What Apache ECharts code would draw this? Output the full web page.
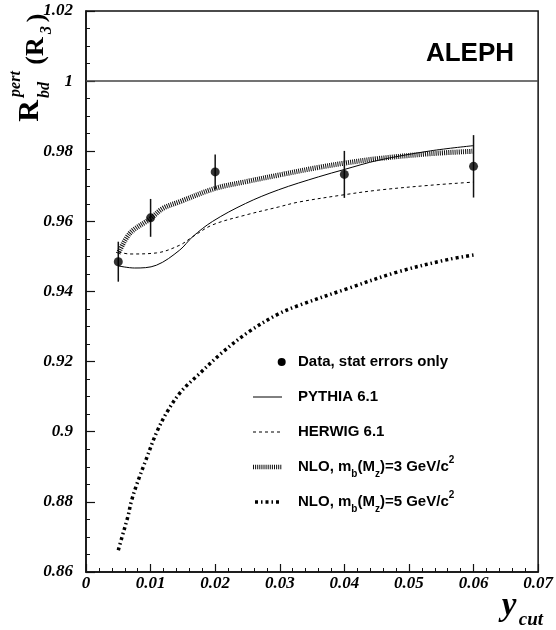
<!DOCTYPE html>
<html><head><meta charset="utf-8">
<script src="https://cdn.jsdelivr.net/npm/echarts@6/dist/echarts.min.js"></script>
<style>html,body{margin:0;padding:0;background:#fff}#c{width:556px;height:630px}</style>
</head><body><div id="c"></div>
<script>
// ---- data ----
const dataX   = [0.005, 0.01, 0.02, 0.04, 0.06];
const dataY   = [0.9485, 0.9610, 0.9741, 0.9734, 0.9757];
const dataErr = [0.0057, 0.0054, 0.0050, 0.0067, 0.0089];

const pythiaX = [0.005, 0.0075, 0.0109, 0.0145, 0.0165, 0.0196, 0.0247, 0.0298, 0.036, 0.040, 0.0452, 0.0533, 0.060];
const pythiaY = [0.9473, 0.9467, 0.9475, 0.9518, 0.9556, 0.9600, 0.9651, 0.9690, 0.9727, 0.9748, 0.9774, 0.9801, 0.9816];

const herwigX = [0.005, 0.0068, 0.0109, 0.0145, 0.0165, 0.0196, 0.0247, 0.0298, 0.0329, 0.040, 0.0452, 0.0533, 0.060];
const herwigY = [0.9513, 0.9507, 0.9510, 0.9532, 0.9556, 0.9590, 0.9618, 0.9641, 0.9655, 0.9676, 0.9689, 0.9703, 0.9712];

const nlo3X = [0.005, 0.0068, 0.010, 0.0119, 0.0145, 0.020, 0.0247, 0.0298, 0.036, 0.040, 0.0452, 0.0533, 0.060];
const nlo3Y = [0.9508, 0.9566, 0.9608, 0.9637, 0.9656, 0.9694, 0.9713, 0.9732, 0.9754, 0.9766, 0.9779, 0.9793, 0.9800];

const nlo5X = [0.005, 0.0055, 0.0065, 0.0070, 0.0079, 0.0091, 0.0110, 0.0127, 0.0147, 0.0173, 0.0211, 0.0252, 0.0297, 0.0329, 0.0406, 0.0483, 0.056, 0.060];
const nlo5Y = [0.8662, 0.8695, 0.8759, 0.8800, 0.8852, 0.8911, 0.9001, 0.9061, 0.9114, 0.9161, 0.9226, 0.9285, 0.9335, 0.9360, 0.9409, 0.9456, 0.9491, 0.9504];

const xMin = 0, xMax = 0.07, xStep = 0.01;
const yMin = 0.86, yMax = 1.02, yStep = 0.02;
const refLineY = 1;

const legendLabels = ['Data, stat errors only', 'PYTHIA 6.1', 'HERWIG 6.1',
  '{t|NLO, m}{s|b}{t|(M}{s|z}{t|)=3 GeV/c}{p|2}',
  '{t|NLO, m}{s|b}{t|(M}{s|z}{t|)=5 GeV/c}{p|2}'];
const expLabel = 'ALEPH';

// ---- chart ----
const zip = (xs, ys) => xs.map((x, i) => [x, ys[i]]);
const fmt = v => String(+(+v).toFixed(3));
const serif = '"Liberation Serif", "DejaVu Serif", serif';
const sans = '"Liberation Sans", Arial, sans-serif';
const tickFont = {fontFamily: serif, fontStyle: 'italic', fontWeight: 'bold', fontSize: 17, color: '#000'};
const AX = '#111';
const chart = echarts.init(document.getElementById('c'), null, {renderer: 'canvas'});

function rtext(x, y, text, font) {
  return {type: 'text', x: x, y: y, rotation: Math.PI / 2, silent: true,
    style: {x: 0, y: 0, text: text, font: font, fill: '#000',
      textAlign: 'center', textVerticalAlign: 'middle', align: 'center', verticalAlign: 'middle'}};
}
function ttext(x, y, text, font, align) {
  return {type: 'text', x: x, y: y, silent: true,
    style: {x: 0, y: 0, text: text, font: font, fill: '#000',
      textAlign: align || 'left', textVerticalAlign: 'middle', align: align || 'left', verticalAlign: 'middle'}};
}
const legRich = {
  t: {fontFamily: sans, fontWeight: 'bold', fontSize: 15, lineHeight: 24, verticalAlign: 'middle', color: '#000'},
  s: {fontFamily: sans, fontWeight: 'bold', fontSize: 10, lineHeight: 10, verticalAlign: 'bottom', color: '#000'},
  p: {fontFamily: sans, fontWeight: 'bold', fontSize: 10, lineHeight: 10, verticalAlign: 'top', color: '#000'}
};
const legY = [362, 397, 432, 467, 502];
const legX0 = 253, legX1 = 282, legTx = 298;
const hatch = {color: '#111', width: 5, dash: [1, 1.1]};
const dashDot = {color: '#000', width: 3.5, dash: [3, 3, 1.5, 3]};
const graphics = [
  // y axis title (rotated)
  rtext(30, 111, 'R', 'bold 30px ' + serif),
  rtext(16, 84, 'pert', 'italic bold 16px ' + serif),
  rtext(45, 90, 'bd', 'italic bold 16px ' + serif),
  rtext(36, 51, '(R', 'bold 26px ' + serif),
  rtext(47, 30, '3', 'italic bold 16px ' + serif),
  rtext(37, 18, ')', 'bold 26px ' + serif),
  // x axis title
  ttext(509, 606, 'y', 'italic bold 33px ' + serif, 'center'),
  ttext(531, 620, 'cut', 'italic bold 19px ' + serif, 'center'),
  // experiment label
  ttext(470, 54, expLabel, 'bold 26px ' + sans, 'center'),
  // legend
  {type: 'circle', shape: {cx: 281.7, cy: legY[0], r: 4}, style: {fill: '#000'}, silent: true},
  {type: 'line', shape: {x1: legX0, y1: legY[1], x2: legX1, y2: legY[1]}, style: {stroke: '#000', lineWidth: 1}, silent: true},
  {type: 'line', shape: {x1: legX0, y1: legY[2], x2: legX1, y2: legY[2]}, style: {stroke: '#000', lineWidth: 1, lineDash: [3, 3]}, silent: true},
  {type: 'line', shape: {x1: legX0, y1: legY[3], x2: legX1, y2: legY[3]}, style: {stroke: hatch.color, lineWidth: 4.5, lineDash: hatch.dash}, silent: true},
  {type: 'line', shape: {x1: legX0 + 2, y1: legY[4], x2: legX1, y2: legY[4]}, style: {stroke: dashDot.color, lineWidth: dashDot.width, lineDash: dashDot.dash}, silent: true}
];
legendLabels.forEach((lab, i) => {
  const isRich = lab.indexOf('{') === 0;
  graphics.push({type: 'text', x: legTx, y: legY[i], silent: true,
    style: isRich
      ? {x: 0, y: 0, text: lab, rich: legRich, textAlign: 'left', textVerticalAlign: 'middle', align: 'left', verticalAlign: 'middle'}
      : {x: 0, y: 0, text: lab, font: 'bold 15px ' + sans, fill: '#000', textAlign: 'left', textVerticalAlign: 'middle', align: 'left', verticalAlign: 'middle'}});
});

const lineCommon = {smooth: 0.35, showSymbol: false, silent: true};
const option = {
  animation: false,
  backgroundColor: '#fff',
  grid: {left: 86, right: 14, top: 11, bottom: 58, show: true, borderColor: AX, borderWidth: 1.5, backgroundColor: 'transparent'},
  xAxis: {
    type: 'value', min: xMin, max: xMax, interval: xStep,
    axisLine: {show: true, onZero: false, lineStyle: {color: AX, width: 1.5}},
    axisTick: {show: true, inside: true, length: 8, lineStyle: {color: AX, width: 1.2}},
    minorTick: {show: true, splitNumber: 5, length: 4, lineStyle: {color: AX, width: 1}},
    splitLine: {show: false}, minorSplitLine: {show: false},
    axisLabel: Object.assign({formatter: fmt, margin: 3, showMinLabel: true, showMaxLabel: true}, tickFont)
  },
  yAxis: {
    type: 'value', min: yMin, max: yMax, interval: yStep,
    axisLine: {show: true, onZero: false, lineStyle: {color: AX, width: 1.5}},
    axisTick: {show: true, inside: true, length: 9, lineStyle: {color: AX, width: 1.2}},
    minorTick: {show: true, splitNumber: 4, length: 4, lineStyle: {color: AX, width: 1}},
    splitLine: {show: false}, minorSplitLine: {show: false},
    axisLabel: Object.assign({formatter: fmt, margin: 13, showMinLabel: true, showMaxLabel: true}, tickFont)
  },
  series: [
    Object.assign({type: 'line', name: 'PYTHIA 6.1', data: zip(pythiaX, pythiaY),
      lineStyle: {color: '#000', width: 1},
      markLine: {silent: true, symbol: 'none', label: {show: false},
        lineStyle: {color: '#444', type: 'solid', width: 1.5}, data: [{yAxis: refLineY}]}}, lineCommon),
    Object.assign({type: 'line', name: 'HERWIG 6.1', data: zip(herwigX, herwigY),
      lineStyle: {color: '#000', width: 1, type: [3, 3]}}, lineCommon),
    Object.assign({type: 'line', name: 'NLO3', data: zip(nlo3X, nlo3Y),
      lineStyle: {color: hatch.color, width: hatch.width, type: hatch.dash, cap: 'butt'}}, lineCommon),
    Object.assign({type: 'line', name: 'NLO5', data: zip(nlo5X, nlo5Y),
      lineStyle: {color: dashDot.color, width: dashDot.width, type: dashDot.dash, cap: 'butt'}}, lineCommon),
    {type: 'custom', name: 'errors', silent: true,
      data: dataX.map((x, i) => [x, dataY[i] - dataErr[i], dataY[i] + dataErr[i]]),
      renderItem: function (params, api) {
        const a = api.coord([api.value(0), api.value(1)]);
        const b = api.coord([api.value(0), api.value(2)]);
        return {type: 'line', shape: {x1: a[0], y1: a[1], x2: b[0], y2: b[1]}, style: {stroke: '#111', lineWidth: 1.5}};
      }},
    {type: 'scatter', name: 'Data', data: zip(dataX, dataY), symbol: 'circle', symbolSize: 9,
      itemStyle: {color: '#000'}, silent: true, z: 5}
  ],
  graphic: graphics
};
chart.setOption(option);
</script></body></html>
